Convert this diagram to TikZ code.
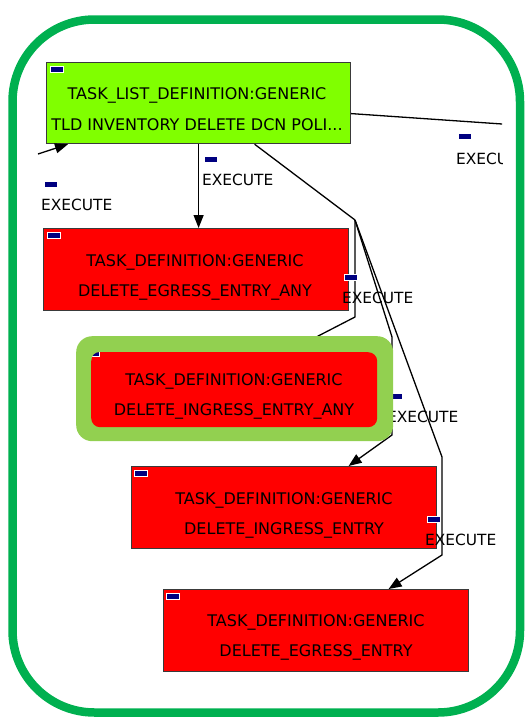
\documentclass[tikz,border=0pt]{standalone}
\usepackage{fontspec}
\setmainfont{DejaVu Sans}
\usetikzlibrary{arrows.meta}

\definecolor{framegreen}{HTML}{00B050}
\definecolor{tldgreen}{HTML}{80FF00}
\definecolor{taskred}{HTML}{FF0000}
\definecolor{halogreen}{HTML}{92D050}
\definecolor{marknavy}{HTML}{000080}
\definecolor{edgegray}{HTML}{3A3A3A}

\pgfdeclarelayer{top}
\pgfsetlayers{main,top}

\begin{document}
\begin{tikzpicture}[x=1pt,y=-1pt,
  box/.style={draw=edgegray, line width=1.2pt, anchor=north west, inner sep=0pt},
  tldbox/.style={box, fill=tldgreen},
  taskbox/.style={box, fill=taskred},
  boxtext/.style={font=\fontsize{16}{30.5}\selectfont, align=center, inner sep=0pt},
  lbl/.style={font=\fontsize{15.4}{18}\selectfont, anchor=west, inner sep=0pt},
  flag/.style={fill=marknavy, draw=white, line width=0.8pt, minimum width=13pt,
               minimum height=6pt, inner sep=0pt, anchor=north west},
  conn/.style={line width=1.3pt, black},
  arr/.style={conn, -{Triangle[length=13pt,width=10pt]}},
]
\useasboundingbox (0,0) rectangle (526,720);

% outer rounded frame
\draw[framegreen, line width=8.5pt, rounded corners=82pt] (12.5,19.5) rectangle (520,712.5);

% task list definition
\node[tldbox, minimum width=304pt, minimum height=81pt] (tld) at (46,62) {};
\node[flag] (fTld) at (50,66) {};
\node[boxtext] (tldT) at (197,109) {TASK\_LIST\_DEFINITION:GENERIC\\TLD INVENTORY DELETE DCN POLI...};

% task definitions
\node[taskbox, minimum width=305pt, minimum height=82pt] (egrAny) at (43,228) {};
\node[flag] (fEgrAny) at (47,232) {};
\node[boxtext] (egrAntyT) at (195,277.5) {TASK\_DEFINITION:GENERIC\\DELETE\_EGRESS\_ENTRY\_ANY};

\node[taskbox, minimum width=305pt, minimum height=82pt] (ingr) at (131,466) {};
\node[flag] (fIngr) at (134,470) {};
\node[boxtext] (ingrT) at (284,515.5) {TASK\_DEFINITION:GENERIC\\DELETE\_INGRESS\_ENTRY};

\node[taskbox, minimum width=305pt, minimum height=82pt] (egr) at (163,589) {};
\node[flag] (fEgr) at (166,593) {};
\node[boxtext] (egrT) at (316,637.5) {TASK\_DEFINITION:GENERIC\\DELETE\_EGRESS\_ENTRY};

% highlighted (selected) task definition, kept above the connectors
\begin{pgfonlayer}{top}
  \node[fill=halogreen, rounded corners=16pt, minimum width=317pt, minimum height=105pt,
        inner sep=0pt, anchor=north west] (ingAnyHalo) at (76,336) {};
  \node[fill=taskred, rounded corners=9pt, minimum width=286pt, minimum height=75pt,
        inner sep=0pt, anchor=north west] (ingAny) at (91,352) {};
  \begin{scope}
    \clip[rounded corners=9pt] (ingAny.north west) rectangle (ingAny.south east);
    \node[flag] (fIngAny) at (86,350) {};
  \end{scope}
  \node[boxtext] (ingAnyT) at (234,396.5) {TASK\_DEFINITION:GENERIC\\DELETE\_INGRESS\_ENTRY\_ANY};
\end{pgfonlayer}

% connectors and their labels
\begin{scope}
  \clip (37,0) rectangle (502,720);
  \coordinate (src) at (38,154);
  \coordinate (junc) at (355,220);
  \coordinate (offRight) at (560,128);

  \draw[arr] (src) -- ([xshift=22pt]tld.south west);
  \draw[arr] (tld.south) -- (tld.south |- egrAny.north);
  \draw[conn] ([xshift=56pt]tld.south) -- (junc);
  \draw[arr] (junc) -- (355,317) -- ([xshift=53pt]ingAny.north);
  \draw[arr] (junc) -- (392,337) -- (392,435) -- ([xshift=64.5pt]ingr.north);
  \draw[arr] (junc) -- (442,457) -- (442,555) -- ([xshift=72.5pt]egr.north);
  \draw[conn] ([yshift=-10.5pt]tld.east) -- (offRight);

  \node[flag] (fL1) at (44,181) {};
  \node[lbl] (l1) at (41,204.5) {EXECUTE};
  \node[flag] (fL2) at (204,156) {};
  \node[lbl] (l2) at (202,179.5) {EXECUTE};
  \node[flag] (fL3) at (344,274) {};
  \node[lbl] (l3) at (342,298) {EXECUTE};
  \node[flag] (fL4) at (389,393) {};
  \node[lbl] (l4) at (387,417) {EXECUTE};
  \node[flag] (fL5) at (427,516) {};
  \node[lbl] (l5) at (425,540) {EXECUTE};
  \node[flag] (fL6) at (458,133) {};
  \node[lbl] (l6) at (456,158.5) {EXECUTE};
\end{scope}
\end{tikzpicture}
\end{document}
